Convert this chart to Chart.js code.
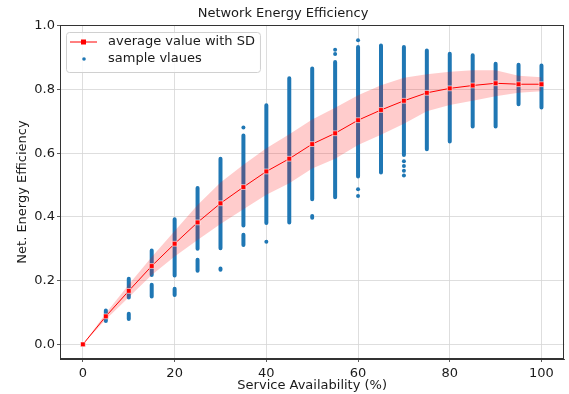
<!DOCTYPE html>
<html>
<head>
<meta charset="utf-8">
<script src="https://cdn.jsdelivr.net/npm/chart.js@4.4.1/dist/chart.umd.min.js"></script>
<style>
  html, body { margin: 0; padding: 0; background: #fff; }
  #wrap { width: 569px; height: 394px; }
</style>
</head>
<body>
<div id="wrap"><canvas id="effChart"></canvas></div>
<script>
const availability = [0, 5, 10, 15, 20, 25, 30, 35, 40, 45, 50, 55, 60, 65, 70, 75, 80, 85, 90, 95, 100];
const meanEff = [0, 0.088, 0.168, 0.246, 0.316, 0.383, 0.443, 0.494, 0.543, 0.583, 0.629, 0.663, 0.704, 0.736, 0.765, 0.790, 0.804, 0.813, 0.820, 0.817, 0.817];
const sdEff = [0, 0.010, 0.020, 0.028, 0.040, 0.055, 0.065, 0.070, 0.073, 0.077, 0.077, 0.080, 0.078, 0.078, 0.072, 0.058, 0.052, 0.048, 0.041, 0.027, 0.022];

// dense runs of sample points, lowest and highest value per column
const stripLow = [null, 0.073, 0.147, 0.218, 0.216, 0.300, 0.302, 0.373, 0.381, 0.383, 0.456, 0.462, 0.527, 0.540, 0.595, 0.613, 0.637, 0.684, 0.684, 0.754, 0.744];
const stripHigh = [null, 0.106, 0.206, 0.295, 0.393, 0.491, 0.583, 0.656, 0.751, 0.836, 0.866, 0.887, 0.934, 0.939, 0.934, 0.923, 0.913, 0.908, 0.881, 0.878, 0.876];

// lower separate clusters
const clusterX = [10, 15, 20, 25, 30, 35];
const clusterLow = [0.080, 0.150, 0.155, 0.231, 0.234, 0.312];
const clusterHigh = [0.096, 0.187, 0.175, 0.266, 0.238, 0.344];

// lone sample points
const loneX = [0, 35, 40, 50, 50, 55, 55, 60, 60, 60, 70, 70, 70, 70];
const loneY = [0, 0.681, 0.322, 0.403, 0.398, 0.925, 0.912, 0.955, 0.487, 0.466, 0.575, 0.560, 0.545, 0.530];

const xTicks = [0, 20, 40, 60, 80, 100];
const yTicks = [0, 0.2, 0.4, 0.6, 0.8, 1.0];

const FONT = '"DejaVu Sans", sans-serif';
const BLUE = '#1f77b4';
const TEXT = '#1a1a1a';

function runs(xs, lows, highs) {
  const pts = [];
  xs.forEach((x, i) => {
    if (lows[i] === null) return;
    pts.push({ x: x, y: lows[i] }, { x: x, y: highs[i] }, { x: x, y: null });
  });
  return pts;
}

const stripData = runs(availability, stripLow, stripHigh).concat(runs(clusterX, clusterLow, clusterHigh));
const loneData = loneX.map((x, i) => ({ x: x, y: loneY[i] }));
const meanData = availability.map((x, i) => ({ x: x, y: meanEff[i] }));
const upperData = availability.map((x, i) => ({ x: x, y: meanEff[i] + sdEff[i] }));
const lowerData = availability.map((x, i) => ({ x: x, y: meanEff[i] - sdEff[i] }));

const frameAndLegend = {
  id: 'frameAndLegend',
  afterDatasetsDraw(chart) {
    const { ctx, chartArea: a } = chart;
    ctx.save();
    ctx.strokeStyle = '#333';
    ctx.lineWidth = 1;
    ctx.strokeRect(Math.round(a.left) + 0.5, Math.round(a.top) + 0.5,
      Math.round(a.right - a.left) - 1, Math.round(a.bottom - a.top) - 1);
    ctx.restore();
  },
  afterDraw(chart) {
    const { ctx, chartArea: a } = chart;
    const labels = ['average value with SD', 'sample vlaues'];
    ctx.save();
    ctx.font = '13px ' + FONT;
    const maxW = Math.max(...labels.map(t => ctx.measureText(t).width));
    const bx = a.left + 6, by = a.top + 7;
    const textX = a.left + 48;
    const bw = textX - bx + maxW + 5, bh = 40;
    ctx.beginPath();
    ctx.roundRect(bx + 0.5, by + 0.5, bw, bh, 3);
    ctx.fillStyle = 'rgba(255,255,255,0.85)';
    ctx.fill();
    ctx.strokeStyle = '#d0d0d0';
    ctx.lineWidth = 1;
    ctx.stroke();

    const y1 = by + 10, y2 = by + 27;
    ctx.strokeStyle = '#ff0000';
    ctx.beginPath();
    ctx.moveTo(a.left + 10, y1);
    ctx.lineTo(a.left + 37, y1);
    ctx.stroke();
    ctx.fillStyle = '#ff0000';
    ctx.fillRect(a.left + 21, y1 - 2.5, 5, 5);
    ctx.fillStyle = BLUE;
    ctx.beginPath();
    ctx.arc(a.left + 24, y2, 1.8, 0, Math.PI * 2);
    ctx.fill();

    ctx.fillStyle = TEXT;
    ctx.textBaseline = 'middle';
    ctx.fillText(labels[0], textX, y1);
    ctx.fillText(labels[1], textX, y2);
    ctx.restore();
  }
};

new Chart(document.getElementById('effChart'), {
  type: 'line',
  data: {
    datasets: [
      {
        label: 'average value with SD',
        data: meanData,
        order: 0,
        borderColor: '#ff0000',
        borderWidth: 1,
        pointStyle: 'rect',
        pointRadius: 3.4,
        pointBackgroundColor: '#ff0000',
        pointBorderColor: '#ffffff',
        pointBorderWidth: 0.6,
        tension: 0,
        fill: false
      },
      {
        label: 'upper',
        data: upperData,
        order: 1,
        borderWidth: 0,
        pointRadius: 0,
        fill: false
      },
      {
        label: 'lower',
        data: lowerData,
        order: 1,
        borderWidth: 0,
        pointRadius: 0,
        backgroundColor: 'rgba(255, 0, 0, 0.2)',
        fill: '-1'
      },
      {
        label: 'sample vlaues',
        data: stripData,
        order: 3,
        borderColor: BLUE,
        borderWidth: 4,
        borderCapStyle: 'round',
        pointRadius: 0,
        spanGaps: false,
        fill: false
      },
      {
        type: 'scatter',
        label: 'lone samples',
        data: loneData,
        order: 3,
        backgroundColor: BLUE,
        borderWidth: 0,
        pointRadius: 2
      }
    ]
  },
  options: {
    responsive: true,
    maintainAspectRatio: false,
    animation: false,
    layout: { padding: { left: 0, right: 3, top: 0, bottom: 0 } },
    plugins: {
      legend: { display: false },
      tooltip: { enabled: false },
      title: {
        display: true,
        text: 'Network Energy Efficiency',
        color: TEXT,
        font: { family: FONT, size: 13, weight: 'normal' },
        padding: { top: 6, bottom: 3.4 }
      }
    },
    scales: {
      x: {
        type: 'linear',
        min: -5,
        max: 105,
        afterBuildTicks: s => { s.ticks = xTicks.map(v => ({ value: v })); },
        afterFit: s => { s.height = 35; },
        ticks: {
          color: TEXT,
          padding: 4,
          font: { family: FONT, size: 13 },
          callback: v => String(v)
        },
        grid: { color: '#d6d6d6', lineWidth: 0.8, tickColor: '#333', tickLength: 3 },
        border: { color: '#333', width: 1 },
        title: {
          display: true,
          text: 'Service Availability (%)',
          color: TEXT,
          font: { family: FONT, size: 13 },
          padding: { top: 0, bottom: 1 }
        }
      },
      y: {
        type: 'linear',
        min: -0.046,
        max: 1.003,
        afterBuildTicks: s => { s.ticks = yTicks.map(v => ({ value: v })); },
        afterFit: s => { s.width = 60; },
        ticks: {
          color: TEXT,
          padding: 2,
          font: { family: FONT, size: 13 },
          callback: v => Number(v).toFixed(1)
        },
        grid: { color: '#d6d6d6', lineWidth: 0.8, tickColor: '#333', tickLength: 3 },
        border: { color: '#333', width: 1 },
        title: {
          display: true,
          text: 'Net. Energy Efficiency',
          color: TEXT,
          font: { family: FONT, size: 13 },
          padding: { top: 15, bottom: 0 }
        }
      }
    }
  },
  plugins: [frameAndLegend]
});
</script>
</body>
</html>
